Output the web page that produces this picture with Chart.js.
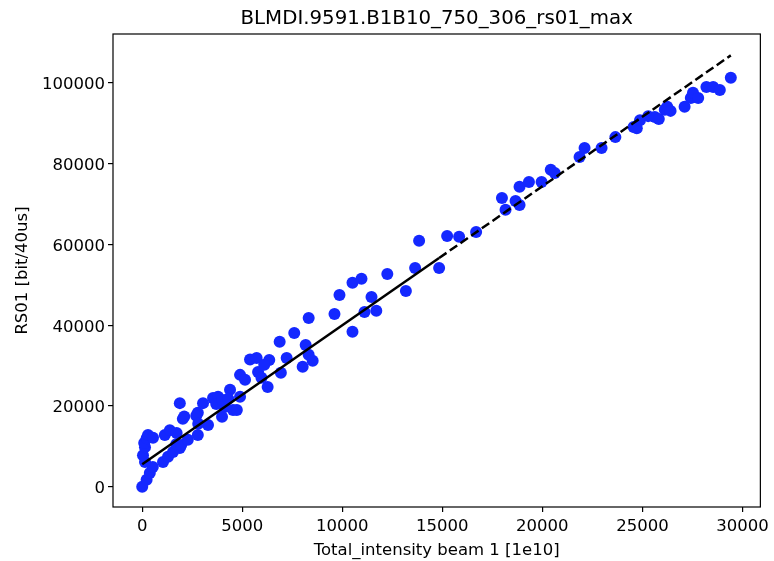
<!DOCTYPE html>
<html>
<head>
<meta charset="utf-8">
<script src="https://cdn.jsdelivr.net/npm/chart.js@4/dist/chart.umd.min.js"></script>
<style>
  html, body { margin: 0; padding: 0; background: #ffffff; }
  #wrap { width: 774px; height: 561px; }
</style>
</head>
<body>
<div id="wrap"><canvas id="c" width="774" height="561"></canvas></div>
<script>
const chartTitle = "BLMDI.9591.B1B10_750_306_rs01_max";
const xLabel = "Total_intensity beam 1 [1e10]";
const yLabel = "RS01 [bit/40us]";

const xTicks = [0, 5000, 10000, 15000, 20000, 25000, 30000];
const yTicks = [0, 20000, 40000, 60000, 80000, 100000];

const intensity = [
  0, 220, 380, 530, 140, 40, 140, 100, 220, 290, 540,
  1040, 1290, 1540, 1880, 1700, 1950, 2280, 2780, 1130, 1380, 1720, 1880, 2030, 2100,
  2780, 2700, 3040, 3290, 2800, 3540, 3790, 3990, 4140, 3700, 4000,
  4390, 4540, 4730, 4890, 4890, 5140, 4300,
  5390, 5720, 5790, 5960, 6350, 6270, 6100,
  6870, 6930, 7220, 7600, 8020, 8170, 8320, 8320, 8520,
  9610, 9860, 10510, 10510, 10960, 11110, 11460, 11700, 12250, 13180, 13640, 13840,
  14840, 15240, 15840, 16690, 17980, 18160, 18660, 18860, 18860, 19330, 19960,
  20420, 20620, 21860, 22110, 22960, 23650, 24560, 24720, 24880, 25290, 25620, 25820,
  26120, 26240, 26410, 27110, 27420, 27530, 27790, 28200, 28540, 28870, 29420
];
const rs01 = [
  0, 1700, 3400, 4900, 6100, 7800, 9800, 10800, 12000, 12800, 12100,
  6100, 7400, 8600, 9600, 10500, 10300, 11600, 12800, 12800, 14000, 13300, 20700, 16800, 17400,
  18300, 17600, 20700, 15300, 15600, 22000, 22300, 17300, 19800, 20500, 21500,
  24000, 19000, 19000, 22300, 27700, 26500, 21800,
  31500, 31900, 28400, 27000, 31400, 24700, 30200,
  35900, 28200, 31900, 38100, 29700, 35100, 41800, 32700, 31200,
  42800, 47500, 38400, 50500, 51500, 43300, 47000, 43600, 52700, 48500, 54200, 60900,
  54200, 62100, 61900, 63100, 71500, 68600, 70800, 69800, 74300, 75500, 75500,
  78500, 77700, 81700, 83900, 83900, 86600, 89100, 88800, 90800, 91800, 91600, 91100,
  93400, 94100, 93100, 94100, 96300, 97600, 96300, 99000, 99000, 98300, 101300
];

// fitted line endpoints
const fitSolidX = [0, 14840];
const fitSolidY = [5550, 56650];
const fitDashX = [14840, 29420];
const fitDashY = [56650, 106850];

const pts = (xs, ys) => xs.map((x, i) => ({ x: x, y: ys[i] }));

const FONT = "'DejaVu Sans', sans-serif";

const framePlugin = {
  id: 'frame',
  afterDatasetsDraw(chart) {
    const a = chart.chartArea, ctx = chart.ctx;
    ctx.save();
    ctx.strokeStyle = '#000';
    ctx.lineWidth = 1.2;
    ctx.strokeRect(a.left, a.top, a.right - a.left, a.bottom - a.top);
    ctx.restore();
  },
  afterDraw(chart) {
    const a = chart.chartArea, ctx = chart.ctx;
    ctx.save();
    ctx.fillStyle = '#000';
    ctx.font = "19.8px " + FONT;
    ctx.textAlign = 'center';
    ctx.textBaseline = 'middle';
    ctx.fillText(chartTitle, (a.left + a.right) / 2, 19);
    ctx.restore();
  }
};

const tickCfg = (vals) => ({
  afterBuildTicks: (s) => { s.ticks = vals.map(v => ({ value: v })); }
});

new Chart(document.getElementById('c'), {
  type: 'scatter',
  data: {
    datasets: [
      {
        label: 'fit',
        data: pts(fitSolidX, fitSolidY),
        showLine: true,
        borderColor: '#000',
        borderWidth: 2.5,
        pointRadius: 0,
        fill: false,
        order: 0
      },
      {
        label: 'fit extrapolated',
        data: pts(fitDashX, fitDashY),
        showLine: true,
        borderColor: '#000',
        borderWidth: 2.5,
        borderDash: [9, 4],
        pointRadius: 0,
        fill: false,
        order: 1
      },
      {
        label: 'data',
        data: pts(intensity, rs01),
        backgroundColor: '#1428ff',
        borderColor: '#1428ff',
        borderWidth: 0,
        pointRadius: 6,
        order: 2
      }
    ]
  },
  options: {
    responsive: false,
    animation: false,
    events: [],
    layout: { padding: { top: 34, right: 12, left: 0, bottom: 0 } },
    plugins: { legend: { display: false }, title: { display: false }, tooltip: { enabled: false } },
    scales: {
      x: {
        type: 'linear',
        min: -1460,
        max: 30897,
        ...tickCfg(xTicks),
        afterFit: (s) => { s.height = 54; },
        grid: { display: true, drawOnChartArea: false, drawTicks: true, tickLength: 5, color: '#000', lineWidth: 1.2 },
        border: { display: false },
        ticks: { color: '#000', font: { family: FONT, size: 16.5 }, padding: 5, maxRotation: 0, autoSkip: false,
                  callback: (v) => String(v) },
        title: { display: true, text: xLabel, color: '#000', font: { family: FONT, size: 16.5 }, padding: { top: 0, bottom: 0 } }
      },
      y: {
        type: 'linear',
        min: -5032,
        max: 112146,
        ...tickCfg(yTicks),
        afterFit: (s) => { s.width = 113; },
        grid: { display: true, drawOnChartArea: false, drawTicks: true, tickLength: 5, color: '#000', lineWidth: 1.2 },
        border: { display: false },
        ticks: { color: '#000', font: { family: FONT, size: 16.5 }, padding: 3, labelOffset: 2, autoSkip: false,
                 callback: (v) => String(v) },
        title: { display: true, text: yLabel, color: '#000', font: { family: FONT, size: 16.5 }, padding: { top: 13, bottom: 0 } }
      }
    }
  },
  plugins: [framePlugin]
});
</script>
</body>
</html>
